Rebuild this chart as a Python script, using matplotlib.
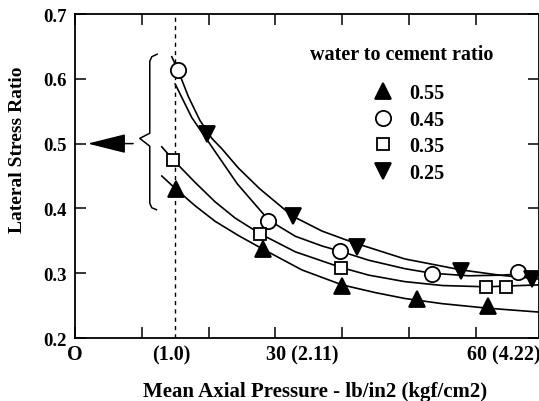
import matplotlib
matplotlib.use("Agg")
import matplotlib.pyplot as plt

plt.rcParams['font.family'] = ['Liberation Serif', 'DejaVu Serif']
plt.rcParams['font.weight'] = 'bold'

# measured points (lb/in2, lateral stress ratio)
x_055 = [15.1, 28.1, 40.0, 51.3, 61.8]
y_055 = [0.430, 0.337, 0.280, 0.260, 0.249]
x_045 = [15.4, 28.9, 39.7, 53.4, 66.3]
y_045 = [0.614, 0.381, 0.334, 0.299, 0.302]
x_035 = [14.7, 27.7, 39.8, 61.6, 64.5]
y_035 = [0.475, 0.360, 0.308, 0.279, 0.279]
x_025 = [19.8, 32.6, 42.2, 57.8, 68.5]
y_025 = [0.515, 0.388, 0.340, 0.303, 0.291]

# fitted curves
cx_055 = [13.0, 15.1, 18.0, 21.0, 24.5, 28.0, 34.0, 40.0, 45.0, 49.4, 55.0, 61.8, 69.5]
cy_055 = [0.450, 0.430, 0.404, 0.380, 0.358, 0.338, 0.305, 0.282, 0.270, 0.261, 0.253, 0.246, 0.240]
cx_045 = [15.0, 17.5, 20.7, 24.3, 29.0, 33.0, 37.0, 39.7, 44.0, 49.4, 53.4, 59.0, 64.0, 69.5]
cy_045 = [0.592, 0.540, 0.492, 0.438, 0.382, 0.357, 0.342, 0.334, 0.320, 0.307, 0.300, 0.296, 0.297, 0.301]
cx_035 = [13.0, 14.7, 18.0, 21.0, 24.0, 27.7, 33.0, 39.8, 44.0, 49.4, 55.0, 61.6, 69.5]
cy_035 = [0.495, 0.475, 0.440, 0.410, 0.385, 0.361, 0.333, 0.309, 0.297, 0.287, 0.281, 0.279, 0.282]
cx_025 = [14.5, 15.4, 17.0, 18.7, 20.5, 22.0, 24.5, 27.7, 32.6, 37.0, 41.5, 49.4, 57.9, 63.6, 69.5]
cy_025 = [0.634, 0.614, 0.572, 0.536, 0.508, 0.492, 0.462, 0.430, 0.388, 0.365, 0.348, 0.322, 0.305, 0.297, 0.291]

xlab_pos = [0, 14.5, 28.6, 58.7]
xlab_text = ['O', '(1.0)', '30 (2.11)', '60 (4.22)']
xlab_ha = ['center', 'center', 'left', 'left']

fig = plt.figure(figsize=(5.39, 4.02), dpi=100)
ax = fig.add_axes([75/539, 1-339/402, 464/539, 324/402])

ms_kw = dict(color='k', linestyle='none', markeredgewidth=1.3)
ax.plot(x_055, y_055, marker='^', markersize=11.5, markerfacecolor='k', label='0.55', **ms_kw)
ax.plot(x_045, y_045, marker='o', markersize=11, markerfacecolor='white', label='0.45', **ms_kw)
ax.plot(x_035, y_035, marker='s', markersize=8.5, markerfacecolor='white', label='0.35', **ms_kw)
ax.plot(x_025, y_025, marker='v', markersize=11.5, markerfacecolor='k', label='0.25', **ms_kw)

for cx, cy in [(cx_055, cy_055), (cx_045, cy_045), (cx_035, cy_035), (cx_025, cy_025)]:
    ax.plot(cx, cy, color='k', lw=1.2, zorder=1)

# 1 kgf/cm2 line
ax.axvline(15.0, color='k', lw=1.0, ls=(0, (3, 3)), zorder=0)

# brace + arrow pointing to 0.5
bx = [12.3, 11.5, 11.2, 11.2, 9.7, 11.2, 11.2, 11.5, 12.2]
by = [0.638, 0.634, 0.627, 0.516, 0.508, 0.496, 0.408, 0.401, 0.398]
ax.plot(bx, by, color='k', lw=1.1)
ax.annotate('', xy=(1.9, 0.5), xytext=(8.7, 0.5),
            arrowprops=dict(arrowstyle='-|>,head_length=2.4,head_width=0.6',
                            mutation_scale=10, color='k', lw=1.1, shrinkA=0, shrinkB=0))

ax.set_xlim(0, 69.5)
ax.set_ylim(0.2, 0.7)
ax.set_xticks(range(0, 70, 10))
ax.set_xticklabels([])
ax.set_yticks([0.2, 0.3, 0.4, 0.5, 0.6, 0.7])
ax.set_yticklabels(['0.2', '0.3', '0.4', '0.5', '0.6', '0.7'])
ax.tick_params(direction='in', length=8, width=1.1, top=True, right=True,
               labelsize=13.5, pad=6)
for s in ax.spines.values():
    s.set_linewidth(1.3)

for p, t, h in zip(xlab_pos, xlab_text, xlab_ha):
    ax.text(p, -0.05, t, transform=ax.get_xaxis_transform(), ha=h, va='center', fontsize=14.5)

fig.text(18/539, 1-150/402, 'Lateral Stress Ratio', rotation=90, ha='center', va='center', fontsize=14)
fig.text(315/539, 10/402, 'Mean Axial Pressure - lb/in2 (kgf/cm2)', ha='center', va='center', fontsize=15)

# legend title drawn separately so the gap under it matches
fig.text(402/539, 1-55/402, 'water to cement ratio', ha='center', va='center', fontsize=14.5)
leg = ax.legend(loc='upper center', bbox_to_anchor=(409/539, 1-70/402), bbox_transform=fig.transFigure,
                frameon=False, fontsize=14.5, handlelength=1.0, handletextpad=0.8,
                labelspacing=0.33, borderpad=0.2)

fig.savefig('out.png', dpi=100)
